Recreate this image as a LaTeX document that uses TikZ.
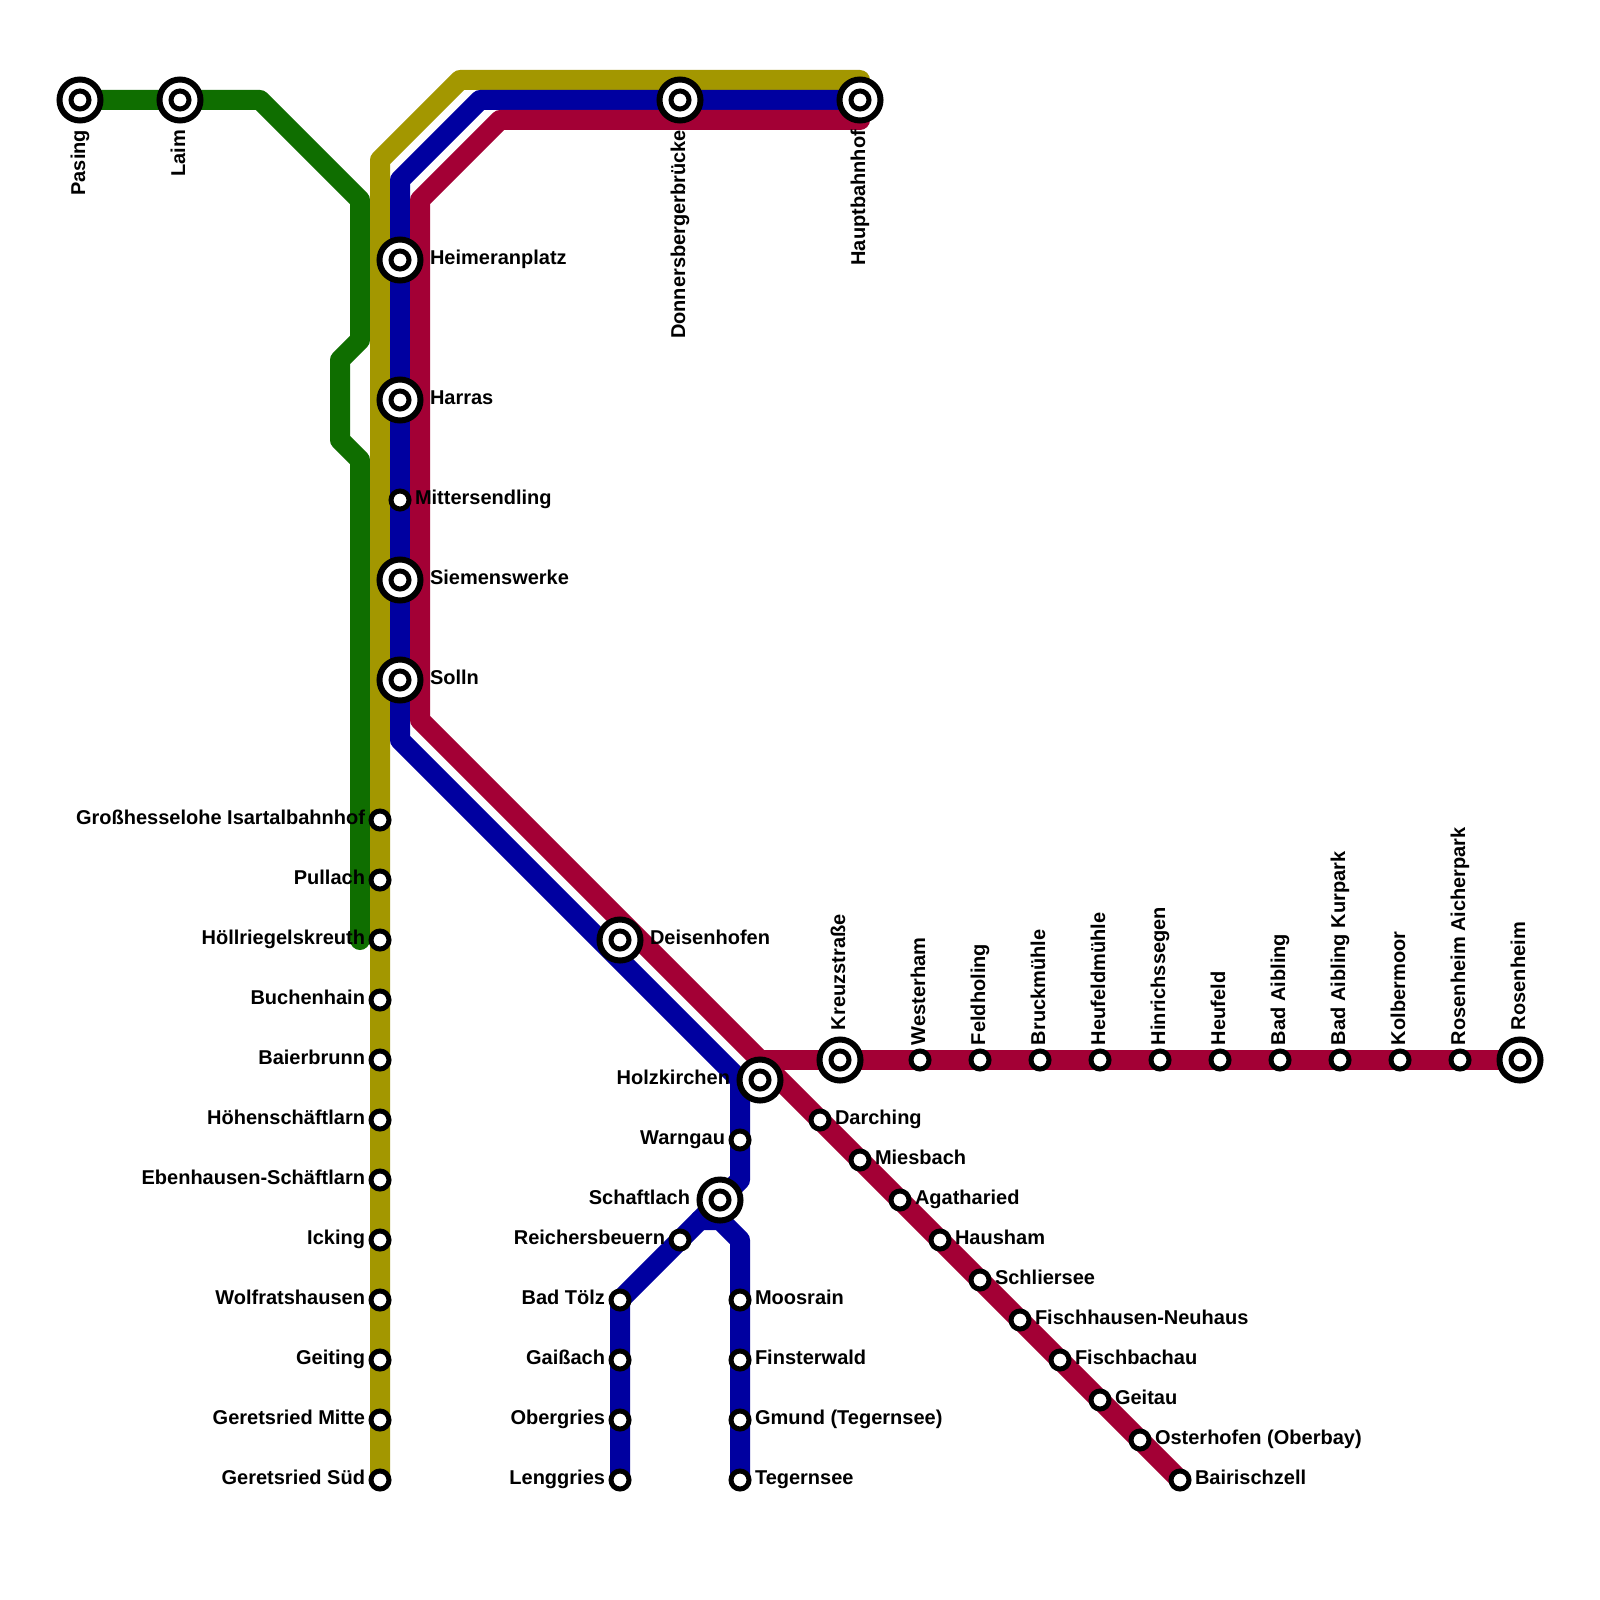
\documentclass[tikz,border=0pt]{standalone}
\usepackage{fontspec}
\setmainfont{Liberation Sans}[BoldFont={Liberation Sans Bold}]
\definecolor{gline}{RGB}{15,110,0}
\definecolor{oline}{RGB}{163,151,0}
\definecolor{bline}{RGB}{0,0,160}
\definecolor{rline}{RGB}{163,0,53}
\pgfdeclarelayer{bg}
\pgfsetlayers{bg,main}
\tikzset{
  x=1pt,y=-1pt,
  route/.style={line width=20pt,line cap=round,line join=round},
  bigst/.style={circle,draw=black,fill=white,line width=6pt,minimum size=41pt,inner sep=0pt,outer sep=0pt,
    path picture={\draw[black,fill=white,line width=5pt] (path picture bounding box.center) circle (9pt);}},
  smallst/.style={circle,draw=black,fill=white,line width=5pt,minimum size=18pt,inner sep=0pt,outer sep=0pt},
  lab/.style={font=\fontsize{20}{20}\selectfont\bfseries,text=black,inner sep=0pt,outer sep=0pt},
  Rs/.style={anchor=base west,xshift=15pt,yshift=-4.5pt},
  Rb/.style={anchor=base west,xshift=30pt,yshift=-4.5pt},
  Ls/.style={anchor=base east,xshift=-15pt,yshift=-4.5pt},
  Lb/.style={anchor=base east,xshift=-30pt,yshift=-4.5pt},
  Ts/.style={anchor=base west,xshift=5pt,yshift=15pt,rotate=90},
  Tb/.style={anchor=base west,xshift=5pt,yshift=30pt,rotate=90},
  Bb/.style={anchor=base east,xshift=5pt,yshift=-30pt,rotate=90},
}
\newcommand{\stn}[5]{\node[#1] (#2) at (#3) {}; \node[lab,#4] (#2-l) at (#3) {#5};}
\begin{document}
\begin{tikzpicture}
\useasboundingbox (0,0) rectangle (1600,1600);
% big stations
\stn{bigst}{pasing}{80,100}{Bb}{Pasing}
\stn{bigst}{laim}{180,100}{Bb}{Laim}
\stn{bigst}{donners}{680,100}{Bb}{Donnersbergerbrücke}
\stn{bigst}{hbf}{860,100}{Bb}{Hauptbahnhof}
\stn{bigst}{heimeran}{400,260}{Rb}{Heimeranplatz}
\stn{bigst}{harras}{400,400}{Rb}{Harras}
\stn{smallst}{mitter}{400,500}{Rs}{Mittersendling}
\stn{bigst}{siemens}{400,580}{Rb}{Siemenswerke}
\stn{bigst}{solln}{400,680}{Rb}{Solln}
\stn{bigst}{deisen}{620,940}{Rb}{Deisenhofen}
\stn{bigst}{holz}{760,1080}{Lb}{Holzkirchen}
\stn{bigst}{kreuz}{840,1060}{Tb}{Kreuzstraße}
\stn{bigst}{schaft}{720,1200}{Lb}{Schaftlach}
% olive line
\stn{smallst}{gross}{380,820}{Ls}{Großhesselohe Isartalbahnhof}
\stn{smallst}{pullach}{380,880}{Ls}{Pullach}
\stn{smallst}{hoell}{380,940}{Ls}{Höllriegelskreuth}
\stn{smallst}{buchen}{380,1000}{Ls}{Buchenhain}
\stn{smallst}{baier}{380,1060}{Ls}{Baierbrunn}
\stn{smallst}{hoehen}{380,1120}{Ls}{Höhenschäftlarn}
\stn{smallst}{ebenh}{380,1180}{Ls}{Ebenhausen-Schäftlarn}
\stn{smallst}{icking}{380,1240}{Ls}{Icking}
\stn{smallst}{wolfr}{380,1300}{Ls}{Wolfratshausen}
\stn{smallst}{geiting}{380,1360}{Ls}{Geiting}
\stn{smallst}{gmitte}{380,1420}{Ls}{Geretsried Mitte}
\stn{smallst}{gsued}{380,1480}{Ls}{Geretsried Süd}
% blue branches
\stn{smallst}{warngau}{740,1140}{Ls}{Warngau}
\stn{smallst}{reichers}{680,1240}{Ls}{Reichersbeuern}
\stn{smallst}{toelz}{620,1300}{Ls}{Bad Tölz}
\stn{smallst}{gaiss}{620,1360}{Ls}{Gaißach}
\stn{smallst}{oberg}{620,1420}{Ls}{Obergries}
\stn{smallst}{lengg}{620,1480}{Ls}{Lenggries}
\stn{smallst}{moos}{740,1300}{Rs}{Moosrain}
\stn{smallst}{finster}{740,1360}{Rs}{Finsterwald}
\stn{smallst}{gmund}{740,1420}{Rs}{Gmund (Tegernsee)}
\stn{smallst}{tegern}{740,1480}{Rs}{Tegernsee}
% red diagonal
\stn{smallst}{darch}{820,1120}{Rs}{Darching}
\stn{smallst}{miesb}{860,1160}{Rs}{Miesbach}
\stn{smallst}{agath}{900,1200}{Rs}{Agatharied}
\stn{smallst}{hausham}{940,1240}{Rs}{Hausham}
\stn{smallst}{schlier}{980,1280}{Rs}{Schliersee}
\stn{smallst}{fischh}{1020,1320}{Rs}{Fischhausen-Neuhaus}
\stn{smallst}{fischb}{1060,1360}{Rs}{Fischbachau}
\stn{smallst}{geitau}{1100,1400}{Rs}{Geitau}
\stn{smallst}{osterh}{1140,1440}{Rs}{Osterhofen (Oberbay)}
\stn{smallst}{bairisch}{1180,1480}{Rs}{Bairischzell}
% red horizontal
\stn{smallst}{wester}{920,1060}{Ts}{Westerham}
\stn{smallst}{feld}{980,1060}{Ts}{Feldholing}
\stn{smallst}{bruck}{1040,1060}{Ts}{Bruckmühle}
\stn{smallst}{heufm}{1100,1060}{Ts}{Heufeldmühle}
\stn{smallst}{hinrich}{1160,1060}{Ts}{Hinrichssegen}
\stn{smallst}{heuf}{1220,1060}{Ts}{Heufeld}
\stn{smallst}{aibl}{1280,1060}{Ts}{Bad Aibling}
\stn{smallst}{aiblk}{1340,1060}{Ts}{Bad Aibling Kurpark}
\stn{smallst}{kolber}{1400,1060}{Ts}{Kolbermoor}
\stn{smallst}{aicher}{1460,1060}{Ts}{Rosenheim Aicherpark}
\stn{bigst}{rosen}{1520,1060}{Tb}{Rosenheim}
% way points
\coordinate (g1) at (260,100); \coordinate (g2) at (360,200); \coordinate (g3) at (360,340);
\coordinate (g4) at (340,360); \coordinate (g5) at (340,440); \coordinate (g6) at (360,460);
\coordinate (g7) at (360,940);
\coordinate (o1) at (380,160); \coordinate (o2) at (460,80); \coordinate (o3) at (860,80);
\coordinate (b1) at (400,180); \coordinate (b2) at (480,100); \coordinate (b3) at (400,740);
\coordinate (b4) at (740,1080); \coordinate (b5) at (740,1180); \coordinate (b6) at (700,1220);
\coordinate (b7) at (720,1220); \coordinate (b8) at (740,1240);
\coordinate (r1) at (420,200); \coordinate (r2) at (500,120); \coordinate (r3) at (860,120);
\coordinate (r4) at (420,720); \coordinate (r5) at (760,1060);
\begin{pgfonlayer}{bg}
\fill[white] (0,0) rectangle (1600,1600);
\draw[route,gline] (pasing.center) -- (g1) -- (g2) -- (g3) -- (g4) -- (g5) -- (g6) -- (g7);
\draw[route,oline] (gsued.center) -- (o1) -- (o2) -- (o3);
\draw[route,bline] (hbf.center) -- (b2) -- (b1) -- (b3) -- (b4) -- (b5) -- (schaft.center) -- (b6) -- (toelz.center) -- (lengg.center);
\draw[route,bline] (b6) -- (b7) -- (b8) -- (tegern.center);
\draw[route,rline] (r3) -- (r2) -- (r1) -- (r4) -- (bairisch.center);
\draw[route,rline] (r5) -- (rosen.center);
\end{pgfonlayer}
\end{tikzpicture}
\end{document}
